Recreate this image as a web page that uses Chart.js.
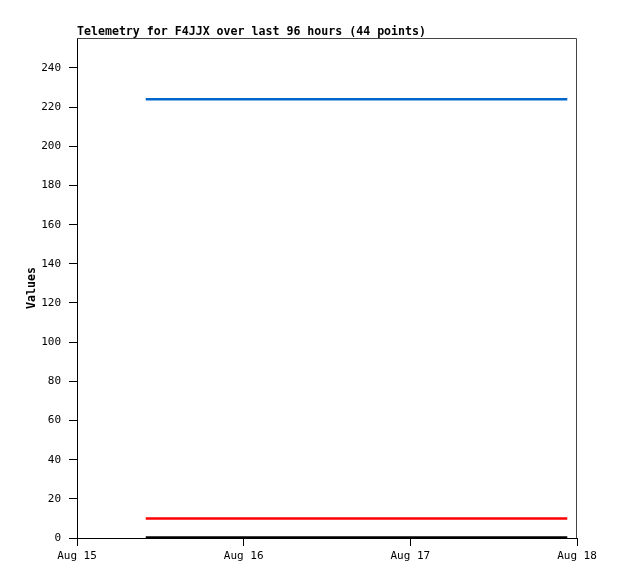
<!DOCTYPE html>
<html>
<head>
<meta charset="utf-8">
<script src="https://cdn.jsdelivr.net/npm/chart.js@4.4.1/dist/chart.umd.min.js"></script>
<style>
  html, body { margin: 0; padding: 0; background: #fff; }
  #wrap { width: 618px; height: 579px; }
</style>
</head>
<body>
<div id="wrap"><canvas id="telemetryChart" width="618" height="579"></canvas></div>
<script>
// hours since Aug 15 00:00
const dayLabels = ["Aug 15", "Aug 16", "Aug 17", "Aug 18"];
const hours = [9.9, 20, 32, 44, 56, 70.6];
const seriesBlue = [224, 224, 224, 224, 224, 224];
const seriesRed = [10, 10, 10, 10, 10, 10];
const seriesBlack = [0.3, 0.3, 0.3, 0.3, 0.3, 0.3];
const yTicks = [0, 20, 40, 60, 80, 100, 120, 140, 160, 180, 200, 220, 240];

const FONT = "'DejaVu Sans Mono', 'Liberation Mono', monospace";

function pts(vals) {
  return vals.map((v, i) => ({ x: hours[i], y: v }));
}

/* titles + frame */
const decor = {
  id: "decor",
  afterDraw(chart) {
    const { ctx, chartArea } = chart;
    ctx.save();
    ctx.strokeStyle = "#444";
    ctx.lineWidth = 1;
    ctx.beginPath();
    ctx.moveTo(chartArea.left, chartArea.top + 0.5);
    ctx.lineTo(chartArea.right - 0.5, chartArea.top + 0.5);
    ctx.lineTo(chartArea.right - 0.5, chartArea.bottom);
    ctx.stroke();

    ctx.fillStyle = "#000";
    ctx.font = "bold 11.6px " + FONT;
    ctx.textAlign = "left";
    ctx.textBaseline = "alphabetic";
    ctx.fillText("Telemetry for F4JJX over last 96 hours (44 points)", 77, 35);

    ctx.translate(35, (chartArea.top + chartArea.bottom) / 2);
    ctx.rotate(-Math.PI / 2);
    ctx.textAlign = "center";
    ctx.fillText("Values", 0, 0);
    ctx.restore();
  }
};

new Chart(document.getElementById("telemetryChart"), {
  type: "line",
  data: {
    datasets: [
      { data: pts(seriesBlue), borderColor: "#0066cc", borderWidth: 2.5 },
      { data: pts(seriesRed), borderColor: "#ff0000", borderWidth: 2.5 },
      { data: pts(seriesBlack), borderColor: "#000000", borderWidth: 2.5 }
    ]
  },
  options: {
    responsive: false,
    animation: false,
    layout: { padding: { top: 38, right: 41, left: 0, bottom: 0 } },
    elements: { point: { radius: 0 }, line: { tension: 0 } },
    plugins: { legend: { display: false }, tooltip: { enabled: false } },
    scales: {
      x: {
        type: "linear",
        min: 0,
        max: 72,
        afterBuildTicks(scale) {
          scale.ticks = dayLabels.map((_, i) => ({ value: i * 24 }));
        },
        afterFit(scale) { scale.height = 41; },
        ticks: {
          color: "#000",
          font: { family: FONT, size: 11 },
          padding: 4,
          maxRotation: 0,
          callback: (v) => dayLabels[v / 24]
        },
        grid: { drawOnChartArea: false, drawTicks: true, tickLength: 8, color: "#000" },
        border: { display: true, color: "#000", width: 1 }
      },
      y: {
        min: 0,
        max: 255.3,
        afterBuildTicks(scale) {
          scale.ticks = yTicks.map((v) => ({ value: v }));
        },
        afterFit(scale) { scale.width = 77; },
        ticks: {
          color: "#000",
          font: { family: FONT, size: 11 },
          padding: 8
        },
        grid: { drawOnChartArea: false, drawTicks: true, tickLength: 8, color: "#000" },
        border: { display: true, color: "#000", width: 1 }
      }
    }
  },
  plugins: [decor]
});
</script>
</body>
</html>
